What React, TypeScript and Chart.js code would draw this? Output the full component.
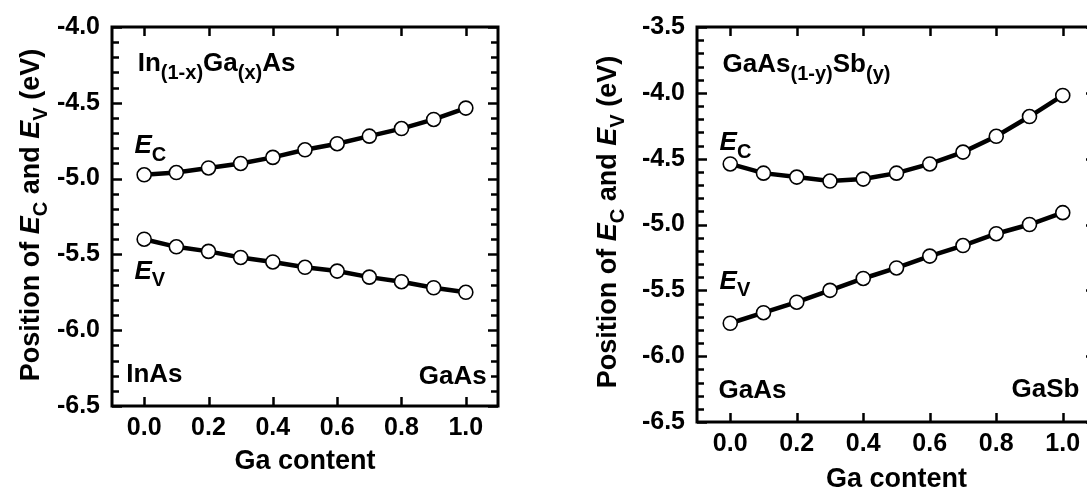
import React, { useEffect, useRef } from "react";
import { Chart, registerables } from "chart.js";

Chart.register(...registerables);

const FONT = '"Liberation Sans", Arial, Helvetica, sans-serif';

// ---------- data ----------
const gaContent = [0.0, 0.1, 0.2, 0.3, 0.4, 0.5, 0.6, 0.7, 0.8, 0.9, 1.0];
const inGaAsEc = [-4.975, -4.96, -4.93, -4.9, -4.86, -4.81, -4.77, -4.72, -4.67, -4.61, -4.535];
const inGaAsEv = [-5.4, -5.45, -5.48, -5.52, -5.55, -5.585, -5.61, -5.65, -5.68, -5.72, -5.75];
const gaAsSbEc = [-4.54, -4.61, -4.64, -4.67, -4.655, -4.61, -4.54, -4.45, -4.33, -4.18, -4.02];
const gaAsSbEv = [-5.75, -5.67, -5.59, -5.5, -5.41, -5.33, -5.24, -5.16, -5.07, -5.0, -4.91];
const xTickValues = [0.0, 0.2, 0.4, 0.6, 0.8, 1.0];
const inGaAsYTicks = [-6.5, -6.0, -5.5, -5.0, -4.5, -4.0];
const gaAsSbYTicks = [-6.5, -6.0, -5.5, -5.0, -4.5, -4.0, -3.5];
const xAxisTitle = "Ga content";

type Seg = { t: string; i?: boolean; s?: boolean };
type Note = { segs: Seg[]; x: number; y: number; align: "left" | "right" };

const yTitleSegs: Seg[] = [
  { t: "Position of " },
  { t: "E", i: true },
  { t: "C", s: true },
  { t: " and " },
  { t: "E", i: true },
  { t: "V", s: true },
  { t: " (eV)" },
];

type PanelCfg = {
  left: number;
  width: number;
  area: { l: number; r: number; t: number; b: number };
  yTicks: number[];
  ec: number[];
  ev: number[];
  notes: Note[];
  yTitle: { x: number; cy: number };
  xTitleY: number;
};

const panels: PanelCfg[] = [
  {
    left: 0,
    width: 560,
    area: { l: 112, r: 498, t: 23, b: 406 },
    yTicks: inGaAsYTicks,
    ec: inGaAsEc,
    ev: inGaAsEv,
    notes: [
      { segs: [{ t: "In" }, { t: "(1-x)", s: true }, { t: "Ga" }, { t: "(x)", s: true }, { t: "As" }], x: -0.02, y: -4.29, align: "left" },
      { segs: [{ t: "E", i: true }, { t: "C", s: true }], x: -0.03, y: -4.83, align: "left" },
      { segs: [{ t: "E", i: true }, { t: "V", s: true }], x: -0.03, y: -5.66, align: "left" },
      { segs: [{ t: "InAs" }], x: -0.056, y: -6.34, align: "left" },
      { segs: [{ t: "GaAs" }], x: 1.065, y: -6.355, align: "right" },
    ],
    yTitle: { x: 39, cy: 215 },
    xTitleY: 469,
  },
  {
    left: 560,
    width: 560,
    area: { l: 137, r: 536, t: 24, b: 422 },
    yTicks: gaAsSbYTicks,
    ec: gaAsSbEc,
    ev: gaAsSbEv,
    notes: [
      { segs: [{ t: "GaAs" }, { t: "(1-y)", s: true }, { t: "Sb" }, { t: "(y)", s: true }], x: -0.023, y: -3.844, align: "left" },
      { segs: [{ t: "E", i: true }, { t: "C", s: true }], x: -0.032, y: -4.432, align: "left" },
      { segs: [{ t: "E", i: true }, { t: "V", s: true }], x: -0.032, y: -5.487, align: "left" },
      { segs: [{ t: "GaAs" }], x: -0.035, y: -6.316, align: "left" },
      { segs: [{ t: "GaSb" }], x: 1.05, y: -6.309, align: "right" },
    ],
    yTitle: { x: 56, cy: 222 },
    xTitleY: 487,
  },
];

const CANVAS_H = 488;

function drawRich(
  ctx: CanvasRenderingContext2D,
  segs: Seg[],
  x: number,
  y: number,
  size: number,
  align: "left" | "right" | "center",
  subRatio = 0.77
) {
  const subSize = Math.round(size * subRatio);
  const fontFor = (s: Seg) => `${s.i ? "italic " : ""}bold ${s.s ? subSize : size}px ${FONT}`;
  let w = 0;
  for (const s of segs) {
    ctx.font = fontFor(s);
    w += ctx.measureText(s.t).width;
  }
  let cx = align === "left" ? x : align === "right" ? x - w : x - w / 2;
  ctx.textAlign = "left";
  ctx.textBaseline = "alphabetic";
  ctx.fillStyle = "#000";
  for (const s of segs) {
    ctx.font = fontFor(s);
    ctx.fillText(s.t, cx, y + (s.s ? size * 0.3 : 0));
    cx += ctx.measureText(s.t).width;
  }
}

function makePlugin(cfg: PanelCfg) {
  return {
    id: "frameAndNotes",
    afterDraw(chart: any) {
      const ctx: CanvasRenderingContext2D = chart.ctx;
      const { left, right, top, bottom } = chart.chartArea;
      const xs = chart.scales.x;
      const ys = chart.scales.y;
      ctx.save();
      ctx.strokeStyle = "#000";
      ctx.lineWidth = 3;
      ctx.strokeRect(left, top, right - left, bottom - top);
      // y ticks (major every 0.5, minor every 0.1), inward on both sides
      const yMin = ys.min;
      const yMax = ys.max;
      const n = Math.round((yMax - yMin) / 0.1);
      ctx.lineWidth = 2.5;
      ctx.beginPath();
      for (let i = 0; i <= n; i++) {
        const v = yMin + i * 0.1;
        const py = Math.round(ys.getPixelForValue(v)) + 0.5;
        const major = i % 5 === 0;
        const len = major ? 10 : 7;
        ctx.moveTo(left, py);
        ctx.lineTo(left + len, py);
        ctx.moveTo(right, py);
        ctx.lineTo(right - len, py);
      }
      for (const t of xs.ticks) {
        const px = Math.round(xs.getPixelForValue(t.value)) + 0.5;
        ctx.moveTo(px, bottom);
        ctx.lineTo(px, bottom - 9);
        ctx.moveTo(px, top);
        ctx.lineTo(px, top + 9);
      }
      ctx.stroke();
      // annotations
      for (const note of cfg.notes) {
        drawRich(ctx, note.segs, xs.getPixelForValue(note.x), ys.getPixelForValue(note.y), 26, note.align);
      }
      // x axis title
      drawRich(ctx, [{ t: xAxisTitle }], (left + right) / 2, cfg.xTitleY, 27, "center");
      // y axis title (rotated)
      ctx.save();
      ctx.translate(cfg.yTitle.x, cfg.yTitle.cy);
      ctx.rotate(-Math.PI / 2);
      drawRich(ctx, yTitleSegs, 0, 0, 27, "center", 0.74);
      ctx.restore();
      ctx.restore();
    },
  };
}

function Panel({ cfg }: { cfg: PanelCfg }) {
  const ref = useRef<HTMLCanvasElement>(null);
  useEffect(() => {
    const canvas = ref.current!;
    const a = cfg.area;
    const lineStyle = {
      borderColor: "#000",
      borderWidth: 4.5,
      pointRadius: 7,
      pointBackgroundColor: "#fff",
      pointBorderColor: "#000",
      pointBorderWidth: 1.6,
      tension: 0,
      fill: false,
    };
    const chart = new Chart(canvas, {
      type: "line",
      data: {
        datasets: [
          { label: "E_C", data: gaContent.map((x, i) => ({ x, y: cfg.ec[i] })), ...lineStyle },
          { label: "E_V", data: gaContent.map((x, i) => ({ x, y: cfg.ev[i] })), ...lineStyle },
        ],
      },
      options: {
        responsive: false,
        animation: false,
        devicePixelRatio: 1,
        events: [],
        layout: { padding: { top: a.t, right: cfg.width - a.r, left: 0, bottom: 0 } },
        plugins: { legend: { display: false }, tooltip: { enabled: false } },
        scales: {
          x: {
            type: "linear",
            min: -0.1,
            max: 1.1,
            afterBuildTicks: (s: any) => {
              s.ticks = xTickValues.map((v) => ({ value: v }));
            },
            afterFit: (s: any) => {
              s.height = CANVAS_H - a.b;
            },
            ticks: {
              callback: (v: any) => Number(v).toFixed(1),
              font: { family: FONT, size: 25, weight: "bold" },
              color: "#000",
              padding: 7,
              maxRotation: 0,
              autoSkip: false,
            },
            grid: { display: false, drawTicks: false },
            border: { display: false },
          },
          y: {
            type: "linear",
            min: cfg.yTicks[0],
            max: cfg.yTicks[cfg.yTicks.length - 1],
            afterBuildTicks: (s: any) => {
              s.ticks = cfg.yTicks.map((v) => ({ value: v }));
            },
            afterFit: (s: any) => {
              s.width = a.l;
            },
            ticks: {
              callback: (v: any) => Number(v).toFixed(1),
              font: { family: FONT, size: 25, weight: "bold" },
              color: "#000",
              padding: 12,
              autoSkip: false,
            },
            grid: { display: false, drawTicks: false },
            border: { display: false },
          },
        },
      } as any,
      plugins: [makePlugin(cfg)],
    });
    return () => chart.destroy();
  }, [cfg]);
  return (
    <canvas
      ref={ref}
      width={cfg.width}
      height={CANVAS_H}
      style={{ position: "absolute", left: cfg.left, top: 0 }}
    />
  );
}

export default function App() {
  return (
    <div
      style={{
        position: "fixed",
        left: 0,
        top: 0,
        width: 1087,
        height: 488,
        overflow: "hidden",
        background: "#fff",
      }}
    >
      {panels.map((p, i) => (
        <Panel key={i} cfg={p} />
      ))}
    </div>
  );
}
